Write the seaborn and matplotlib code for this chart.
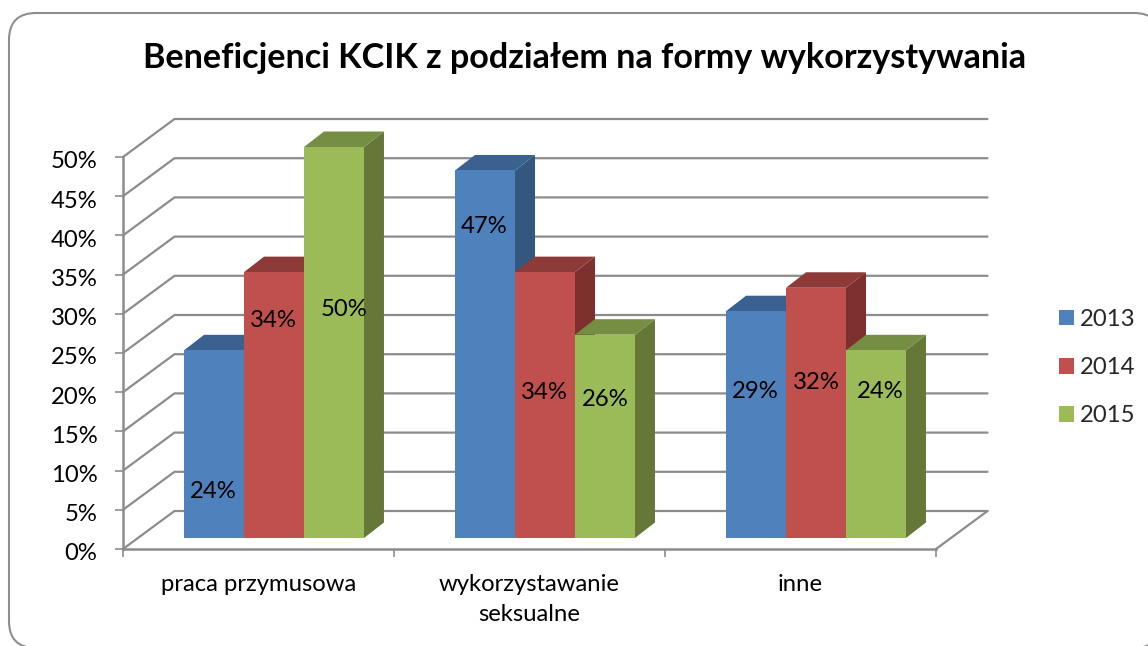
import matplotlib
matplotlib.use("Agg")
import matplotlib.pyplot as plt
import numpy as np
import pandas as pd
import seaborn as sns
from matplotlib.patches import FancyBboxPatch, Polygon
from matplotlib.transforms import IdentityTransform, ScaledTranslation

# ---- data
categories = ["praca przymusowa", "wykorzystawanie\nseksualne", "inne"]
years = ["2013", "2014", "2015"]
values_2013 = [24, 47, 29]
values_2014 = [34, 34, 32]
values_2015 = [50, 26, 24]
y_ticks = [0, 5, 10, 15, 20, 25, 30, 35, 40, 45, 50]
title = "Beneficjenci KCIK z podziałem na formy wykorzystywania"

# ---- style / layout (pixels in the 1148x646 picture)
W, H = 1148, 646
front_colors = ["#4F81BD", "#C0504D", "#9BBB59"]
top_colors = ["#3A6190", "#8E3A38", "#768E44"]
side_colors = ["#34577F", "#7D302E", "#657837"]
grid_color = "#8C8C8C"
wall_box = (123, 936, 157, 549)   # left, right, top, bottom
bar_box = (138.5, 951.5, 147, 538)
wall_depth = (51.5, 38)
bar_depth = (20, 15.5)
label_y_px = [[492, 321, 310], [227, 393, 400], [391, 383, 392]]
label_dx_px = [[-1, -1, 10], [-1, -1, 0], [-1, 0, 4]]
FS = 17.2

sns.set_theme(style="white")
plt.rcParams["font.family"] = ["Lato", "DejaVu Sans"]

fig = plt.figure(figsize=(W / 100, H / 100), dpi=100, facecolor="white")


def axes_at(box):
    l, r, t, b = box
    ax = fig.add_axes([l / W, 1 - b / H, (r - l) / W, (b - t) / H])
    ax.patch.set_alpha(0)
    return ax


# rounded outer frame, running off the right and bottom edges
rad = 27
fx0, fx1, fy0, fy1 = 9, 1161, 13, 648
fig.add_artist(FancyBboxPatch(
    (fx0 + rad, H - fy1 + rad), fx1 - fx0 - 2 * rad, fy1 - fy0 - 2 * rad,
    boxstyle=f"round,pad={rad},rounding_size={rad}",
    transform=IdentityTransform(), fc="white", ec="#8E8E8E", lw=1.5, zorder=-1))

# ---- walls and floor
wall = axes_at(wall_box)
wall.set_xlim(-0.5, 2.5)
wall.set_ylim(y_ticks[0], y_ticks[-1])
wx = 3 / (wall_box[1] - wall_box[0])
wy = (y_ticks[-1] - y_ticks[0]) / (wall_box[3] - wall_box[2])
ddx, ddy = wall_depth[0] * wx, wall_depth[1] * wy
for v in y_ticks:
    wall.plot([-0.5, -0.5 + ddx, 2.5 + ddx], [v, v + ddy, v + ddy],
              color=grid_color, lw=1.6, clip_on=False, zorder=1,
              solid_joinstyle="miter")
wall.plot([2.5, 2.5 + ddx], [0, ddy], color=grid_color, lw=1.6, clip_on=False, zorder=1)
for s in ["top", "right"]:
    wall.spines[s].set_visible(False)
for s in ["left", "bottom"]:
    wall.spines[s].set_color(grid_color)
    wall.spines[s].set_linewidth(1.8)
wall.set_yticks(y_ticks)
wall.set_yticklabels([f"{v}%" for v in y_ticks])
wall.set_xticks([-0.5, 0.5, 1.5, 2.5])
wall.set_xticklabels([])
wall.set_xticks([0, 1, 2], labels=categories, minor=True)
wall.tick_params(axis="both", which="major", length=5.5, width=1.2, color=grid_color,
                 labelsize=FS, labelcolor="black", left=True, bottom=True)
wall.tick_params(axis="y", which="major", pad=13)
wall.tick_params(axis="x", which="minor", length=0, labelsize=FS, labelcolor="black", pad=18)
shift_down = ScaledTranslation(0, -3 / 100, fig.dpi_scale_trans)
for lab in wall.get_yticklabels():
    lab.set_transform(lab.get_transform() + shift_down)
for lab in wall.get_xticklabels(minor=True):
    lab.set_linespacing(1.55)

# ---- bars
df = pd.DataFrame({
    "category": np.tile(categories, 3),
    "year": np.repeat(years, 3),
    "value": values_2013 + values_2014 + values_2015,
})
bars = axes_at(bar_box)
sns.barplot(data=df, x="category", y="value", hue="year", order=categories,
            hue_order=years, palette=front_colors, width=0.664, gap=0,
            saturation=1, linewidth=0, ax=bars)
bars.set_xlim(-0.5, 2.5)
bars.set_ylim(0, 50)
bars.axis("off")

bx = 3 / (bar_box[1] - bar_box[0])
by = 50 / (bar_box[3] - bar_box[2])
bdx, bdy = bar_depth[0] * bx, bar_depth[1] * by
for j, cont in enumerate(bars.containers):
    for i, p in enumerate(cont.patches):
        x0, x1, h = p.get_x(), p.get_x() + p.get_width(), p.get_height()
        z = 3 + 3 * j
        p.set_zorder(z + 2)
        bars.add_patch(Polygon([(x1, 0), (x1 + bdx, bdy), (x1 + bdx, h + bdy), (x1, h)],
                               fc=side_colors[j], ec="none", clip_on=False, zorder=z))
        bars.add_patch(Polygon([(x0, h), (x0 + bdx, h + bdy), (x1 + bdx, h + bdy), (x1, h)],
                               fc=top_colors[j], ec="none", clip_on=False, zorder=z + 1))
        bars.text((x0 + x1) / 2 + label_dx_px[i][j] * bx,
                  (bar_box[3] - label_y_px[i][j]) * by,
                  f"{h:.0f}%", ha="center", va="center", fontsize=FS,
                  color="black", zorder=30)

# ---- legend
leg = bars.get_legend()
if leg:
    leg.remove()
handles = [plt.Rectangle((0, 0), 1, 1, fc=c, ec="none") for c in front_colors]
fig.legend(handles, years, loc="upper left", bbox_to_anchor=(1059 / W, 1 - 309 / H),
           frameon=False, fontsize=FS, handlelength=0.63, handleheight=0.63,
           handletextpad=0.24, labelspacing=1.14, borderpad=0, borderaxespad=0)

fig.text(585 / W, 1 - 58 / H, title, ha="center", va="center",
         fontsize=24.6, fontweight="bold", color="black")

fig.savefig("out.png", dpi=100, facecolor="white")
